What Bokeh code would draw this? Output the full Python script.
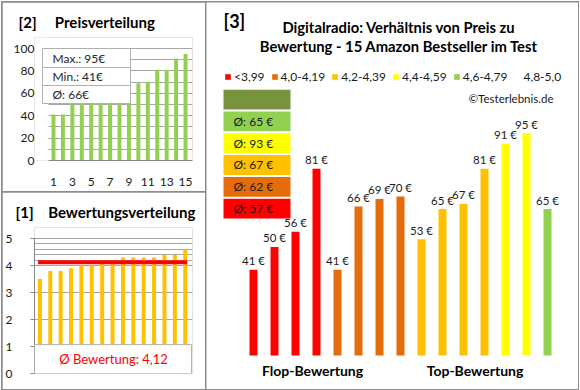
from bokeh.plotting import figure
from bokeh.layouts import row, column
from bokeh.models import (Range1d, FixedTicker, BoxAnnotation, Label, Legend,
                          LegendItem, ColumnDataSource, Title)
from bokeh.core.properties import value
from bokeh.embed import file_html
from bokeh.resources import INLINE

# ---------------- data ----------------
products = list(range(1, 16))
ratings = [3.5, 3.8, 3.8, 3.9, 4.0, 4.0, 4.1, 4.1, 4.3, 4.3, 4.3, 4.3, 4.4, 4.4, 4.6]
prices = [41, 50, 56, 81, 41, 66, 69, 70, 53, 65, 67, 81, 91, 95, 65]
class_labels = ["<3,99", "4,0-4,19", "4,2-4,39", "4,4-4,59", "4,6-4,79", "4,8-5,0"]
class_lower = [0.0, 4.0, 4.2, 4.4, 4.6, 4.8]
class_colors = ["#FF0000", "#E46C0A", "#FFC000", "#FFFF00", "#92D050", "#77933C"]
price_ticks = [0, 20, 40, 60, 80, 100]
price_grid = [10, 20, 30, 40, 50, 60, 70, 80, 90, 100]
rating_ticks = [0, 1, 2, 3, 4, 5]
rating_grid = [1, 2, 3, 4, 4.2, 4.4, 4.6, 4.8, 5]

FONT = "Lato"
TXT = "#1a1a1a"
AXC = "#868686"
GRIDC = "#a6a6a6"
BORDER = "#8c8c8c"
NB = "\u00a0"

prices_sorted = sorted(prices)
mean_price = int(sum(prices) / len(prices) + 0.5)
mean_rating = sum(ratings) / len(ratings)


def rating_class(r):
    k = 0
    for i, lo in enumerate(class_lower):
        if r >= lo - 1e-9:
            k = i
    return k


classes = [rating_class(r) for r in ratings]


def base_fig(**kw):
    return figure(output_backend="svg", toolbar_location=None,
                  outline_line_color=None, background_fill_color="white",
                  border_fill_color="white", **kw)


def slabel(p, x, y, text, size="12px", style="normal", color=TXT, align="left", baseline="middle"):
    p.add_layout(Label(x=x, y=y, x_units="screen", y_units="screen", text=text,
                       text_font=FONT, text_font_size=size, text_font_style=style,
                       text_color=color, text_align=align, text_baseline=baseline))


def panel_title(p, text, offset):
    p.title = Title(text=text, align="left", offset=offset, standoff=14,
                    text_font=FONT, text_font_size="15px", text_font_style="bold",
                    text_color="#000000")
    p.title_location = "above"


# ---------------- [2] Preisverteilung ----------------
# frame: page x 34..192, page y 37..160 ; 100 at page 48
P2_PX = 1.12          # px per EUR
P2_BAR_PX = 9.43      # px per product
p2_start = 1 - 19 / P2_BAR_PX
p2 = base_fig(width=203, height=189,
              x_range=Range1d(p2_start, p2_start + 158 / P2_BAR_PX),
              y_range=Range1d(0, 123 / P2_PX),
              min_border_left=32, min_border_right=13, min_border_top=35, min_border_bottom=31)
p2.margin = (1, 0, 0, 1)
panel_title(p2, "[2]" + NB * 5 + "Preisverteilung", -16)
grid_left = p2_start + 14 / P2_BAR_PX
p2.vbar(x=products, top=prices_sorted, width=0.42, fill_color="#92D050", line_color=None)
p2.yaxis.ticker = FixedTicker(ticks=price_ticks)
p2.yaxis.axis_line_color = None
p2.yaxis.major_tick_line_color = None
p2.yaxis.minor_tick_line_color = None
p2.yaxis.major_tick_out = 0
p2.yaxis.major_label_standoff = 0
p2.xaxis.ticker = FixedTicker(ticks=products[::2])
p2.xaxis.bounds = (grid_left, p2.x_range.end)
p2.xaxis.axis_line_color = AXC
p2.xaxis.major_tick_line_color = None
p2.xaxis.minor_tick_line_color = None
p2.xaxis.major_tick_out = 0
p2.xaxis.major_label_standoff = 17
for ax in (p2.xaxis, p2.yaxis):
    ax.axis_label = None
    ax.major_label_text_font = FONT
    ax.major_label_text_font_size = "12px"
    ax.major_label_text_color = TXT
p2.xgrid.visible = False
p2.ygrid.ticker = FixedTicker(ticks=price_grid)
p2.ygrid.grid_line_color = GRIDC
# blank strip: grid lines start right of the value labels
p2.add_layout(BoxAnnotation(left=p2.x_range.start, right=grid_left, bottom=0, top=p2.y_range.end,
                            fill_color="white", fill_alpha=1.0, line_color=None))

# stats box (screen units relative to frame: left = page 34, bottom = page 160)
stat_texts = [f"Max.: {max(prices)}€", f"Min.: {min(prices)}€", f"Ø: {mean_price}€"]
row_tops = [112, 93, 75]
row_bots = [93, 75, 57]
for t, top, bot in zip(stat_texts, row_tops, row_bots):
    p2.add_layout(BoxAnnotation(left=8, right=96, top=top, bottom=bot,
                                left_units="screen", right_units="screen",
                                top_units="screen", bottom_units="screen",
                                fill_color="white", fill_alpha=1.0,
                                line_color="#b0b0b0", line_width=1, line_alpha=1.0))
    slabel(p2, 18, (top + bot) / 2, t, size="12px", color="#262626")

# ---------------- [1] Bewertungsverteilung ----------------
# frame: page x 34..192, page y 227..373 ; 5 at page 238
P1_PX = 27.0
P1_BAR_PX = 10.38
p1_start = 1 - 5.4 / P1_BAR_PX
p1 = base_fig(width=203, height=197,
              x_range=Range1d(p1_start, p1_start + 158 / P1_BAR_PX),
              y_range=Range1d(0, 146 / P1_PX),
              x_axis_location=None,
              min_border_left=32, min_border_right=13, min_border_top=35, min_border_bottom=16)
p1.margin = (0, 0, 1, 1)
panel_title(p1, "[1]" + NB * 4 + "Bewertungsverteilung", -19)
p1.vbar(x=products, top=ratings, width=0.385, fill_color="#FFC000", line_color=None)
p1.segment(x0=products[0] - 0.17, x1=products[-1] + 0.19, y0=mean_rating, y1=mean_rating,
           line_color="#FF0000", line_width=4)
p1.yaxis.ticker = FixedTicker(ticks=rating_ticks)
p1.yaxis.bounds = (rating_ticks[0], rating_ticks[-1])
p1.yaxis.axis_label = None
p1.yaxis.axis_line_color = AXC
p1.yaxis.major_tick_line_color = AXC
p1.yaxis.minor_tick_line_color = None
p1.yaxis.major_tick_out = 4
p1.yaxis.major_tick_in = 0
p1.yaxis.major_label_standoff = 18
p1.yaxis.major_label_text_font = FONT
p1.yaxis.major_label_text_font_size = "12px"
p1.yaxis.major_label_text_color = TXT
p1.xgrid.visible = False
p1.ygrid.ticker = FixedTicker(ticks=rating_grid)
p1.ygrid.grid_line_color = GRIDC
p1.add_layout(BoxAnnotation(left=p1.x_range.start, right=p1.x_range.end - 0.1, bottom=0, top=1.07,
                            fill_color="white", fill_alpha=1.0,
                            line_color="#b0b0b0", line_width=1, line_alpha=1.0))
mean_txt = f"{mean_rating:.2f}".replace(".", ",")
slabel(p1, 79, 14.5, f"Ø Bewertung: {mean_txt}", size="13px", color="#FF0000", align="center")

# ---------------- [3] Preis zu Bewertung ----------------
BASE = 7
p3 = base_fig(width=372, height=387, x_range=Range1d(-1.238, 16.476), y_range=Range1d(-6.47, 146.8),
              x_axis_location=None, y_axis_location=None, title_location=None,
              min_border=0, min_border_left=0, min_border_right=0, min_border_top=0, min_border_bottom=0)
p3.margin = (1, 1, 1, 0)
p3.xgrid.visible = False
p3.ygrid.visible = False

renderers = []
for k, col in enumerate(class_colors):
    xs = [x for x, c in zip(products, classes) if c == k]
    ys = [v for v, c in zip(prices, classes) if c == k]
    src = ColumnDataSource(dict(x=xs, top=ys))
    r = p3.vbar(x="x", top="top", bottom=BASE, width=0.38, source=src,
                fill_color=col, line_color=None)
    renderers.append(r)

p3.text(x=products, y=prices, text=[f"{v} €" for v in prices],
        text_align="center", text_baseline="alphabetic", y_offset=-9,
        text_font=value(FONT), text_font_size="11.5px", text_color=TXT)

legend = Legend(items=[LegendItem(label=lab, renderers=[r]) for lab, r in zip(class_labels, renderers)],
                orientation="horizontal", location=(18, 305), glyph_width=7, glyph_height=7,
                label_standoff=3, spacing=6, padding=0, margin=0, border_line_color=None,
                background_fill_alpha=0, label_text_font=FONT, label_text_font_size="12px",
                label_text_color=TXT, label_height=12, label_width=10)
p3.add_layout(legend)

# average-price boxes per rating class
for k, col in enumerate(class_colors):
    ys = [v for v, c in zip(prices, classes) if c == k]
    bot = 171 + 21.8 * k
    p3.add_layout(BoxAnnotation(left=17, right=84, bottom=bot, top=bot + 19.8,
                                left_units="screen", right_units="screen",
                                top_units="screen", bottom_units="screen",
                                fill_color=col, fill_alpha=1.0, line_color=None))
    if ys:
        avg = int(sum(ys) / len(ys) + 0.5)
        slabel(p3, 27, bot + 10, f"Ø: {avg} €", size="12px", color=TXT)

slabel(p3, 17, 369, "[3]", size="18px", style="bold", color="#000000")
slabel(p3, 192.5, 363, "Digitalradio: Verhältnis von Preis zu", size="14.8px", style="bold",
       color="#000000", align="center")
slabel(p3, 192.5, 343.5, "Bewertung - 15 Amazon Bestseller im Test", size="14.8px", style="bold",
       color="#000000", align="center")
slabel(p3, 347, 291.5, "©Testerlebnis.de", size="11.5px", color=TXT, align="right")
slabel(p3, 106, 19, "Flop-Bewertung", size="14px", style="bold", color="#000000", align="center")
slabel(p3, 268.5, 19, "Top-Bewertung", size="14px", style="bold", color="#000000", align="center")

left = column(p2, p1, spacing=1)
layout = row(left, p3, spacing=1, margin=(1, 0, 0, 1),
             styles={"background-color": BORDER})

open("out.html", "w").write(file_html(layout, INLINE))
